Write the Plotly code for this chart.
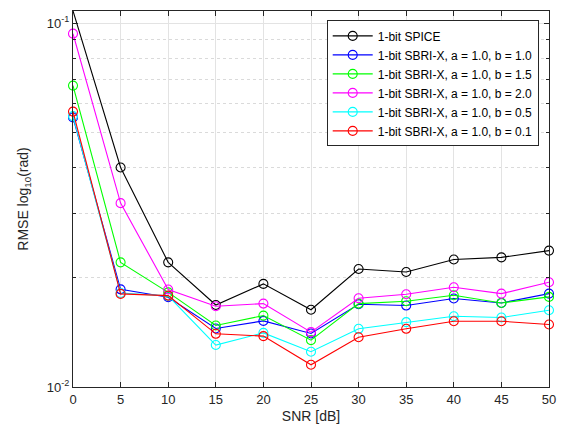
import plotly.graph_objects as go

snr = [0, 5, 10, 15, 20, 25, 30, 35, 40, 45, 50]

spice = [0.108, 0.0401, 0.0220, 0.0168, 0.0192, 0.0163, 0.0211, 0.0207, 0.0224, 0.0227, 0.0237]
b10 = [0.0550, 0.01855, 0.01765, 0.01448, 0.01519, 0.01403, 0.01688, 0.01674, 0.0175, 0.01702, 0.01805]
b15 = [0.0673, 0.0220, 0.0182, 0.01476, 0.01571, 0.01345, 0.01695, 0.01721, 0.01787, 0.01702, 0.01768]
b20 = [0.0935, 0.0320, 0.01853, 0.01667, 0.01695, 0.01415, 0.01753, 0.01798, 0.01879, 0.01805, 0.0194]
b05 = [0.0555, 0.01813, 0.0178, 0.01304, 0.01408, 0.0125, 0.01445, 0.01507, 0.01565, 0.01552, 0.01625]
b01 = [0.0571, 0.01802, 0.01783, 0.0140, 0.0138, 0.01151, 0.0137, 0.01445, 0.01516, 0.01516, 0.01485]

series = [
    ("1-bit SPICE", spice, "#000000"),
    ("1-bit SBRI-X, a = 1.0, b = 1.0", b10, "#0000FF"),
    ("1-bit SBRI-X, a = 1.0, b = 1.5", b15, "#00FF00"),
    ("1-bit SBRI-X, a = 1.0, b = 2.0", b20, "#FF00FF"),
    ("1-bit SBRI-X, a = 1.0, b = 0.5", b05, "#00FFFF"),
    ("1-bit SBRI-X, a = 1.0, b = 0.1", b01, "#FF0000"),
]

xticks = [0, 5, 10, 15, 20, 25, 30, 35, 40, 45, 50]
yticks = [0.01, 0.1]
yticktext = ["10<sup>-2</sup>", "10<sup>-1</sup>"]
yminor = [0.02, 0.03, 0.04, 0.05, 0.06, 0.07, 0.08, 0.09]

FAM = "Liberation Sans, Arial, sans-serif"

fig = go.Figure()
for name, vals, col in series:
    fig.add_trace(go.Scatter(
        x=snr, y=vals, name=name, mode="lines+markers", cliponaxis=False,
        line=dict(color=col, width=1.1),
        marker=dict(symbol="circle-open", size=9, color=col, line=dict(width=1.1, color=col)),
    ))

fig.update_layout(
    width=566, height=431,
    margin=dict(l=73, r=15, t=10, b=44),
    paper_bgcolor="white", plot_bgcolor="white",
    font=dict(family=FAM, size=13, color="#262626"),
    showlegend=True,
    legend=dict(
        x=0.533, y=0.975, xanchor="left", yanchor="top",
        bgcolor="white", bordercolor="#262626", borderwidth=1,
        font=dict(family=FAM, size=12, color="#000000"),
        tracegroupgap=0, itemwidth=40,
    ),
    xaxis=dict(
        range=[0, 50], tickvals=xticks, ticks="inside", ticklen=5,
        tickcolor="#262626", showline=True, linecolor="#262626", linewidth=1,
        mirror="allticks", showgrid=True, gridcolor="#E3E3E3", gridwidth=1,
        zeroline=False, tickfont=dict(size=13),
        title=dict(text="SNR [dB]", standoff=5, font=dict(size=14, color="#262626")),
    ),
    yaxis=dict(
        type="log", range=[-2, -0.967], tickvals=yticks, ticktext=yticktext,
        ticks="inside", ticklen=5, tickcolor="#262626",
        showline=True, linecolor="#262626", linewidth=1, mirror="allticks",
        showgrid=True, gridcolor="#E3E3E3", gridwidth=1, zeroline=False,
        tickfont=dict(size=13),
        minor=dict(tickvals=yminor, ticks="inside", ticklen=3, tickcolor="#262626",
                   showgrid=True, gridcolor="#DADADA", griddash="dot", gridwidth=1),
        title=dict(text="RMSE log<sub>10</sub>(rad)", standoff=14, font=dict(size=14, color="#262626")),
    ),
)

fig.write_html("out.html", config={"displayModeBar": False},
               post_script="document.body.style.margin='0';document.body.style.overflow='hidden';")
